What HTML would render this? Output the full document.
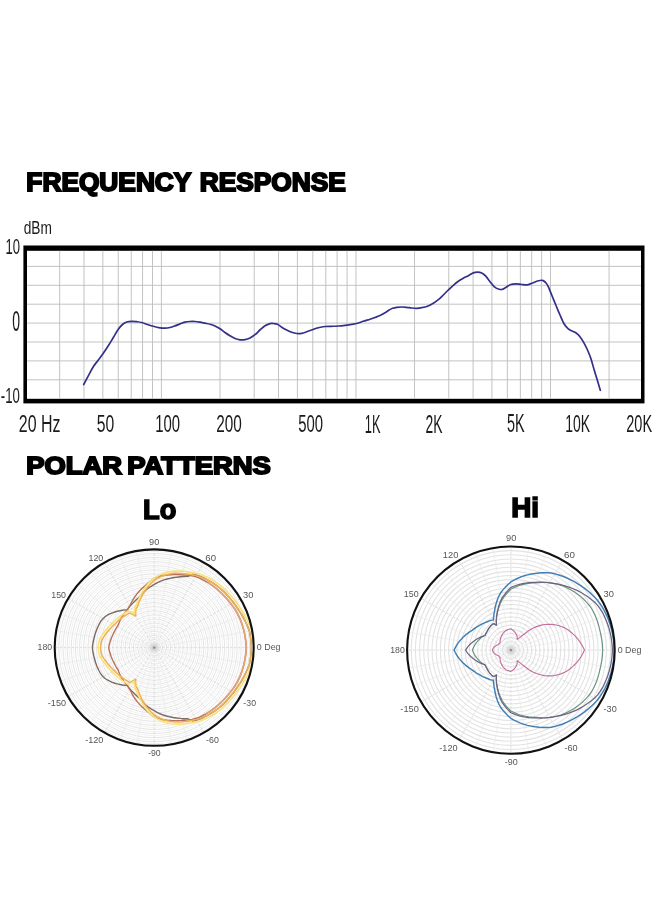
<!DOCTYPE html>
<html lang="en"><head><meta charset="utf-8"><title>Frequency Response and Polar Patterns</title>
<style>
html,body{margin:0;padding:0;background:#fff;}
body{width:660px;height:900px;overflow:hidden;}
svg{display:block;font-family:"Liberation Sans",Arial,sans-serif;}
</style></head><body>
<svg width="660" height="900" viewBox="0 0 660 900">
<rect width="660" height="900" fill="#fff"/>
<rect x="23.4" y="245.5" width="621.1" height="157.89999999999998" fill="#000"/>
<rect x="27.0" y="250.8" width="614.0" height="148.0" fill="#fff"/>
<path d="M27.0 266.40H641.0 M27.0 285.30H641.0 M27.0 304.20H641.0 M27.0 323.10H641.0 M27.0 342.00H641.0 M27.0 360.90H641.0 M27.0 379.80H641.0 M59.67 250.8V398.8 M83.98 250.8V398.8 M102.83 250.8V398.8 M118.24 250.8V398.8 M131.26 250.8V398.8 M142.55 250.8V398.8 M152.50 250.8V398.8 M161.40 250.8V398.8 M219.97 250.8V398.8 M254.22 250.8V398.8 M278.53 250.8V398.8 M297.38 250.8V398.8 M312.79 250.8V398.8 M325.81 250.8V398.8 M337.10 250.8V398.8 M347.05 250.8V398.8 M355.95 250.8V398.8 M414.52 250.8V398.8 M448.77 250.8V398.8 M473.08 250.8V398.8 M491.93 250.8V398.8 M507.34 250.8V398.8 M520.36 250.8V398.8 M531.65 250.8V398.8 M541.60 250.8V398.8 M550.50 250.8V398.8 M609.07 250.8V398.8" stroke="#bcbcbc" stroke-width="0.9" fill="none"/>
<path d="M83.70 384.50C84.47 383.05 86.70 378.77 88.30 375.80C89.90 372.83 91.63 369.33 93.30 366.70C94.97 364.07 96.63 362.23 98.30 360.00C99.97 357.77 101.63 355.67 103.30 353.30C104.97 350.93 106.63 348.43 108.30 345.80C109.97 343.17 111.63 340.27 113.30 337.50C114.97 334.73 116.77 331.37 118.30 329.20C119.83 327.03 121.10 325.70 122.50 324.50C123.90 323.30 125.17 322.53 126.70 322.00C128.23 321.47 130.03 321.35 131.70 321.30C133.37 321.25 135.03 321.50 136.70 321.70C138.37 321.90 140.03 322.08 141.70 322.50C143.37 322.92 144.77 323.57 146.70 324.20C148.63 324.83 151.08 325.70 153.30 326.30C155.52 326.90 158.05 327.48 160.00 327.80C161.95 328.12 163.33 328.25 165.00 328.20C166.67 328.15 168.33 327.88 170.00 327.50C171.67 327.12 173.33 326.50 175.00 325.90C176.67 325.30 178.33 324.52 180.00 323.90C181.67 323.28 183.33 322.60 185.00 322.20C186.67 321.80 188.33 321.62 190.00 321.50C191.67 321.38 193.33 321.38 195.00 321.50C196.67 321.62 198.33 321.92 200.00 322.20C201.67 322.48 203.33 322.87 205.00 323.20C206.67 323.53 208.33 323.73 210.00 324.20C211.67 324.67 213.33 325.23 215.00 326.00C216.67 326.77 218.33 327.72 220.00 328.80C221.67 329.88 223.33 331.33 225.00 332.50C226.67 333.67 228.33 334.80 230.00 335.80C231.67 336.80 233.33 337.83 235.00 338.50C236.67 339.17 238.33 339.60 240.00 339.80C241.67 340.00 243.33 340.00 245.00 339.70C246.67 339.40 248.33 338.83 250.00 338.00C251.67 337.17 253.33 336.03 255.00 334.70C256.67 333.37 258.33 331.48 260.00 330.00C261.67 328.52 263.33 326.87 265.00 325.80C266.67 324.73 268.62 323.98 270.00 323.60C271.38 323.22 272.05 323.38 273.30 323.50C274.55 323.62 276.10 323.68 277.50 324.30C278.90 324.92 280.17 326.25 281.70 327.20C283.23 328.15 285.03 329.15 286.70 330.00C288.37 330.85 290.03 331.72 291.70 332.30C293.37 332.88 295.03 333.33 296.70 333.50C298.37 333.67 300.03 333.58 301.70 333.30C303.37 333.02 305.03 332.35 306.70 331.80C308.37 331.25 309.77 330.68 311.70 330.00C313.63 329.32 316.08 328.28 318.30 327.70C320.52 327.12 322.77 326.73 325.00 326.50C327.23 326.27 329.48 326.38 331.70 326.30C333.92 326.22 336.08 326.17 338.30 326.00C340.52 325.83 342.77 325.58 345.00 325.30C347.23 325.02 349.75 324.60 351.70 324.30C353.65 324.00 354.77 324.00 356.70 323.50C358.63 323.00 361.08 322.02 363.30 321.30C365.52 320.58 368.05 319.83 370.00 319.20C371.95 318.57 373.33 318.12 375.00 317.50C376.67 316.88 378.33 316.28 380.00 315.50C381.67 314.72 383.47 313.72 385.00 312.80C386.53 311.88 387.95 310.75 389.20 310.00C390.45 309.25 391.25 308.75 392.50 308.30C393.75 307.85 395.17 307.52 396.70 307.30C398.23 307.08 400.03 307.00 401.70 307.00C403.37 307.00 405.03 307.13 406.70 307.30C408.37 307.47 410.03 307.83 411.70 308.00C413.37 308.17 415.03 308.35 416.70 308.30C418.37 308.25 419.90 308.05 421.70 307.70C423.50 307.35 425.57 306.93 427.50 306.20C429.43 305.47 431.50 304.38 433.30 303.30C435.10 302.22 436.63 301.08 438.30 299.70C439.97 298.32 441.63 296.62 443.30 295.00C444.97 293.38 446.63 291.62 448.30 290.00C449.97 288.38 451.63 286.75 453.30 285.30C454.97 283.85 456.63 282.47 458.30 281.30C459.97 280.13 461.63 279.23 463.30 278.30C464.97 277.37 466.63 276.60 468.30 275.70C469.97 274.80 471.77 273.48 473.30 272.90C474.83 272.32 476.10 272.18 477.50 272.20C478.90 272.22 480.32 272.33 481.70 273.00C483.08 273.67 484.42 274.75 485.80 276.20C487.18 277.65 488.60 279.95 490.00 281.70C491.40 283.45 492.95 285.52 494.20 286.70C495.45 287.88 496.25 288.33 497.50 288.80C498.75 289.27 500.32 289.72 501.70 289.50C503.08 289.28 504.28 288.33 505.80 287.50C507.32 286.67 509.13 285.12 510.80 284.50C512.47 283.88 513.98 283.80 515.80 283.80C517.62 283.80 519.75 284.33 521.70 284.50C523.65 284.67 525.70 285.05 527.50 284.80C529.30 284.55 530.83 283.63 532.50 283.00C534.17 282.37 535.83 281.45 537.50 281.00C539.17 280.55 541.12 280.02 542.50 280.30C543.88 280.58 544.83 281.63 545.80 282.70C546.77 283.77 547.32 284.65 548.30 286.70C549.28 288.75 550.45 291.95 551.70 295.00C552.95 298.05 554.42 301.67 555.80 305.00C557.18 308.33 558.60 311.83 560.00 315.00C561.40 318.17 562.82 321.70 564.20 324.00C565.58 326.30 566.92 327.60 568.30 328.80C569.68 330.00 571.25 330.53 572.50 331.20C573.75 331.87 574.55 331.88 575.80 332.80C577.05 333.72 578.60 334.95 580.00 336.70C581.40 338.45 582.95 341.08 584.20 343.30C585.45 345.52 586.40 347.50 587.50 350.00C588.60 352.50 589.68 354.97 590.80 358.30C591.92 361.63 593.08 366.25 594.20 370.00C595.32 373.75 596.48 377.42 597.50 380.80C598.52 384.18 599.83 388.72 600.30 390.30" stroke="#33308a" stroke-width="1.7" fill="none" stroke-linecap="round" stroke-linejoin="round"/>
<text transform="translate(26.34 190.75) scale(1.0446 1)" font-size="25.18" font-weight="bold" fill="#000" stroke="#000" stroke-width="1.9" stroke-linejoin="miter" stroke-miterlimit="3" word-spacing="1.40">FREQUENCY RESPONSE</text>
<text transform="translate(26.17 474.35) scale(1.1069 1)" font-size="24.75" font-weight="bold" fill="#000" stroke="#000" stroke-width="1.9" stroke-linejoin="miter" stroke-miterlimit="3" word-spacing="-2.04">POLAR PATTERNS</text>
<text transform="translate(142.98 518.95) scale(1.0039 1)" font-size="27.19" font-weight="bold" fill="#000" stroke="#000" stroke-width="1.5" stroke-linejoin="miter" stroke-miterlimit="3">Lo</text>
<text transform="translate(511.29 516.90) scale(1.0113 1)" font-size="27.48" font-weight="bold" fill="#000" stroke="#000" stroke-width="1.6" stroke-linejoin="miter" stroke-miterlimit="3">Hi</text>
<text transform="translate(23.65 233.72) scale(0.7253 1)" font-size="18.92" fill="#1a1a1a" font-weight="normal" >dBm</text>
<text transform="translate(5.42 254.27) scale(0.5806 1)" font-size="22.54" fill="#1a1a1a" font-weight="normal" >10</text>
<text transform="translate(12.21 331.11) scale(0.4880 1)" font-size="28.73" fill="#1a1a1a" font-weight="normal" >0</text>
<text transform="translate(0.87 403.28) scale(0.5941 1)" font-size="22.25" fill="#1a1a1a" font-weight="normal" >-10</text>
<text transform="translate(18.80 432.25) scale(0.6479 1)" font-size="24.65" fill="#1a1a1a" font-weight="normal" >20 Hz</text>
<text transform="translate(96.87 432.25) scale(0.6382 1)" font-size="24.65" fill="#1a1a1a" font-weight="normal" >50</text>
<text transform="translate(155.18 432.25) scale(0.6044 1)" font-size="24.65" fill="#1a1a1a" font-weight="normal" >100</text>
<text transform="translate(216.23 432.25) scale(0.6231 1)" font-size="24.65" fill="#1a1a1a" font-weight="normal" >200</text>
<text transform="translate(298.20 432.25) scale(0.6039 1)" font-size="24.65" fill="#1a1a1a" font-weight="normal" >500</text>
<text transform="translate(364.83 432.50) scale(0.5079 1)" font-size="25.36" fill="#1a1a1a" font-weight="normal" >1K</text>
<text transform="translate(425.61 432.50) scale(0.5557 1)" font-size="25.00" fill="#1a1a1a" font-weight="normal" >2K</text>
<text transform="translate(506.92 432.25) scale(0.5782 1)" font-size="25.00" fill="#1a1a1a" font-weight="normal" >5K</text>
<text transform="translate(565.25 432.25) scale(0.5665 1)" font-size="24.65" fill="#1a1a1a" font-weight="normal" >10K</text>
<text transform="translate(626.27 432.25) scale(0.5889 1)" font-size="24.65" fill="#1a1a1a" font-weight="normal" >20K</text>
<g fill="none" stroke="#ececec" stroke-width="0.7"><ellipse cx="154.2" cy="647.6" rx="2.07" ry="2.05"/><ellipse cx="154.2" cy="647.6" rx="6.22" ry="6.14"/><ellipse cx="154.2" cy="647.6" rx="10.36" ry="10.23"/><ellipse cx="154.2" cy="647.6" rx="14.51" ry="14.32"/><ellipse cx="154.2" cy="647.6" rx="18.66" ry="18.41"/><ellipse cx="154.2" cy="647.6" rx="22.80" ry="22.50"/><ellipse cx="154.2" cy="647.6" rx="26.95" ry="26.60"/><ellipse cx="154.2" cy="647.6" rx="31.09" ry="30.69"/><ellipse cx="154.2" cy="647.6" rx="35.24" ry="34.78"/><ellipse cx="154.2" cy="647.6" rx="39.39" ry="38.87"/><ellipse cx="154.2" cy="647.6" rx="43.53" ry="42.96"/><ellipse cx="154.2" cy="647.6" rx="47.68" ry="47.05"/><ellipse cx="154.2" cy="647.6" rx="51.82" ry="51.15"/><ellipse cx="154.2" cy="647.6" rx="55.97" ry="55.24"/><ellipse cx="154.2" cy="647.6" rx="60.11" ry="59.33"/><ellipse cx="154.2" cy="647.6" rx="64.26" ry="63.42"/><ellipse cx="154.2" cy="647.6" rx="68.41" ry="67.51"/><ellipse cx="154.2" cy="647.6" rx="72.55" ry="71.60"/><ellipse cx="154.2" cy="647.6" rx="76.70" ry="75.70"/><ellipse cx="154.2" cy="647.6" rx="80.84" ry="79.79"/><ellipse cx="154.2" cy="647.6" rx="84.99" ry="83.88"/><ellipse cx="154.2" cy="647.6" rx="89.14" ry="87.97"/><ellipse cx="154.2" cy="647.6" rx="93.28" ry="92.06"/><ellipse cx="154.2" cy="647.6" rx="97.43" ry="96.15"/></g>
<g fill="none" stroke="#dedede" stroke-width="0.8"><ellipse cx="154.2" cy="647.6" rx="4.15" ry="4.09"/><ellipse cx="154.2" cy="647.6" rx="8.29" ry="8.18"/><ellipse cx="154.2" cy="647.6" rx="12.44" ry="12.28"/><ellipse cx="154.2" cy="647.6" rx="16.58" ry="16.37"/><ellipse cx="154.2" cy="647.6" rx="20.73" ry="20.46"/><ellipse cx="154.2" cy="647.6" rx="24.88" ry="24.55"/><ellipse cx="154.2" cy="647.6" rx="29.02" ry="28.64"/><ellipse cx="154.2" cy="647.6" rx="33.17" ry="32.73"/><ellipse cx="154.2" cy="647.6" rx="37.31" ry="36.83"/><ellipse cx="154.2" cy="647.6" rx="41.46" ry="40.92"/><ellipse cx="154.2" cy="647.6" rx="45.60" ry="45.01"/><ellipse cx="154.2" cy="647.6" rx="49.75" ry="49.10"/><ellipse cx="154.2" cy="647.6" rx="53.90" ry="53.19"/><ellipse cx="154.2" cy="647.6" rx="58.04" ry="57.28"/><ellipse cx="154.2" cy="647.6" rx="62.19" ry="61.38"/><ellipse cx="154.2" cy="647.6" rx="66.33" ry="65.47"/><ellipse cx="154.2" cy="647.6" rx="70.48" ry="69.56"/><ellipse cx="154.2" cy="647.6" rx="74.62" ry="73.65"/><ellipse cx="154.2" cy="647.6" rx="78.77" ry="77.74"/><ellipse cx="154.2" cy="647.6" rx="82.92" ry="81.83"/><ellipse cx="154.2" cy="647.6" rx="87.06" ry="85.93"/><ellipse cx="154.2" cy="647.6" rx="91.21" ry="90.02"/><ellipse cx="154.2" cy="647.6" rx="95.35" ry="94.11"/></g>
<path d="M154.2 647.6L252.19 630.55 M154.2 647.6L247.70 614.01 M154.2 647.6L230.42 584.48 M154.2 647.6L218.16 572.37 M154.2 647.6L188.23 555.32 M154.2 647.6L171.48 550.89 M154.2 647.6L136.92 550.89 M154.2 647.6L120.17 555.32 M154.2 647.6L90.24 572.37 M154.2 647.6L77.98 584.48 M154.2 647.6L60.70 614.01 M154.2 647.6L56.21 630.55 M154.2 647.6L56.21 664.65 M154.2 647.6L60.70 681.19 M154.2 647.6L77.98 710.72 M154.2 647.6L90.24 722.83 M154.2 647.6L120.17 739.88 M154.2 647.6L136.92 744.31 M154.2 647.6L171.48 744.31 M154.2 647.6L188.23 739.88 M154.2 647.6L218.16 722.83 M154.2 647.6L230.42 710.72 M154.2 647.6L247.70 681.19 M154.2 647.6L252.19 664.65" stroke="#e9e9e9" stroke-width="0.7" fill="none"/>
<path d="M154.2 647.6L253.70 647.60 M154.2 647.6L240.37 598.50 M154.2 647.6L203.95 562.56 M154.2 647.6L154.20 549.40 M154.2 647.6L104.45 562.56 M154.2 647.6L68.03 598.50 M154.2 647.6L54.70 647.60 M154.2 647.6L68.03 696.70 M154.2 647.6L104.45 732.64 M154.2 647.6L154.20 745.80 M154.2 647.6L203.95 732.64 M154.2 647.6L240.37 696.70" stroke="#d6d6d6" stroke-width="0.8" stroke-dasharray="2.5 1.5" fill="none"/>
<circle cx="154.2" cy="647.6" r="4" fill="#bbb" opacity="0.35"/><circle cx="154.2" cy="647.6" r="1.2" fill="#888"/>
<path d="M251.40 647.60L251.18 643.42L250.78 639.26L250.20 635.13L249.43 631.03L247.91 627.10L246.22 623.27L244.37 619.54L242.38 615.92L240.27 612.42L238.01 609.03L235.76 605.70L233.37 602.49L230.85 599.41L228.31 596.39L225.64 593.50L222.85 590.75L219.92 588.17L216.90 585.72L213.72 583.49L210.39 581.51L207.00 579.69L203.61 577.96L200.18 576.37L196.59 575.14L192.89 574.26L187.84 576.40L184.04 576.50L180.31 576.79L176.70 577.18L173.18 577.70L169.75 578.39L166.42 579.20L163.19 580.17L160.07 581.43L157.06 582.89L154.20 584.47L151.48 586.06L148.89 587.75L146.46 589.55L144.20 591.66L142.12 593.84L140.22 596.10L138.36 598.02L136.49 599.58L134.72 601.20L133.07 602.88L131.45 604.47L129.94 606.12L128.52 607.82L127.30 609.68L124.89 609.90L122.45 610.25L119.94 610.70L117.39 611.27L114.82 611.98L112.26 612.87L109.80 613.98L107.36 615.23L105.06 616.71L103.16 618.52L101.33 620.44L100.01 622.66L98.78 624.94L97.65 627.29L96.64 629.69L95.75 632.14L94.97 634.64L94.30 637.18L93.69 639.74L93.14 642.33L92.71 644.95L92.40 647.60L92.71 650.25L93.14 652.87L93.69 655.46L94.30 658.02L94.97 660.56L95.75 663.06L96.64 665.51L97.65 667.91L98.78 670.26L100.01 672.54L101.33 674.76L103.16 676.68L105.06 678.49L107.36 679.97L109.80 681.22L112.26 682.33L114.82 683.22L117.39 683.93L119.94 684.50L122.45 684.95L124.89 685.30L127.30 685.52L128.52 687.38L129.94 689.08L131.45 690.73L133.07 692.32L134.72 694.00L136.49 695.62L138.36 697.18L140.22 699.10L142.12 701.36L144.20 703.54L146.46 705.65L148.89 707.45L151.48 709.14L154.20 710.73L157.06 712.31L160.07 713.77L163.19 715.03L166.42 716.00L169.75 716.81L173.18 717.50L176.70 718.02L180.31 718.41L184.04 718.70L187.84 718.80L192.89 720.94L196.59 720.06L200.18 718.83L203.61 717.24L207.00 715.51L210.39 713.69L213.72 711.71L216.90 709.48L219.92 707.03L222.85 704.45L225.64 701.70L228.31 698.81L230.85 695.79L233.37 692.71L235.76 689.50L238.01 686.17L240.27 682.78L242.38 679.28L244.37 675.66L246.22 671.93L247.91 668.10L249.43 664.17L250.20 660.07L250.78 655.94L251.18 651.78Z" stroke="#7d6a62" stroke-width="1.4" fill="none" stroke-linejoin="round"/>
<path d="M246.30 647.60L246.04 643.64L245.60 639.71L244.99 635.80L244.21 631.94L243.21 628.12L242.05 624.37L240.73 620.67L239.14 617.09L237.39 613.59L235.46 610.20L233.29 606.96L231.00 603.84L228.59 600.83L226.08 597.93L223.46 595.15L220.75 592.49L217.94 589.95L215.05 587.55L212.04 585.31L208.94 583.22L205.76 581.28L202.50 579.52L199.19 577.90L195.69 576.68L192.05 575.83L188.36 575.30L184.66 575.02L181.09 574.70L177.54 574.54L174.03 574.55L170.57 574.72L167.16 575.04L163.82 575.47L160.55 576.02L157.34 576.71L154.20 578.34L151.23 580.47L148.45 582.68L145.84 584.92L143.40 587.15L141.11 589.31L138.98 591.54L137.02 593.83L135.24 596.18L133.62 598.57L132.21 601.05L130.97 603.56L129.78 605.85L128.57 607.90L127.34 609.75L125.97 611.29L124.68 612.88L123.49 614.52L122.38 616.20L121.36 617.90L120.44 619.64L119.61 621.41L118.87 623.19L118.22 624.98L117.24 626.54L116.26 628.11L115.36 629.72L114.52 631.38L113.69 633.05L112.83 634.73L112.04 636.45L111.32 638.22L110.68 640.03L110.08 641.87L109.54 643.74L109.08 645.66L108.70 647.60L109.08 649.54L109.54 651.46L110.08 653.33L110.68 655.17L111.32 656.98L112.04 658.75L112.83 660.47L113.69 662.15L114.52 663.82L115.36 665.48L116.26 667.09L117.24 668.66L118.22 670.22L118.87 672.01L119.61 673.79L120.44 675.56L121.36 677.30L122.38 679.00L123.49 680.68L124.68 682.32L125.97 683.91L127.34 685.45L128.57 687.30L129.78 689.35L130.97 691.64L132.21 694.15L133.62 696.63L135.24 699.02L137.02 701.37L138.98 703.66L141.11 705.89L143.40 708.05L145.84 710.28L148.45 712.52L151.23 714.73L154.20 716.86L157.34 718.49L160.55 719.18L163.82 719.73L167.16 720.16L170.57 720.48L174.03 720.65L177.54 720.66L181.09 720.50L184.66 720.18L188.36 719.90L192.05 719.37L195.69 718.52L199.19 717.30L202.50 715.68L205.76 713.92L208.94 711.98L212.04 709.89L215.05 707.65L217.94 705.25L220.75 702.71L223.46 700.05L226.08 697.27L228.59 694.37L231.00 691.36L233.29 688.24L235.46 685.00L237.39 681.61L239.14 678.11L240.73 674.53L242.05 670.83L243.21 667.08L244.21 663.26L244.99 659.40L245.60 655.49L246.04 651.56Z" stroke="#b87058" stroke-width="1.4" fill="none" stroke-linejoin="round"/>
<path d="M206.40 713.54L209.56 711.57L212.65 709.46L215.63 707.18L218.51 704.75L221.29 702.19L223.99 699.50L226.59 696.70L229.08 693.78L231.47 690.74L233.74 687.60L235.88 684.34L237.76 680.92L239.48 677.40L241.01 673.79L242.30 670.09L243.43 666.32L244.38 662.49L245.13 658.62L245.70 654.71L246.10 650.77L246.26 646.81L245.96 642.85L245.49 638.92L244.85 635.03L244.03 631.17L243.00 627.37L241.80 623.62L240.43 619.95L238.81 616.38L237.03 612.90L235.04 609.55L232.84 606.33L230.52 603.23L228.10 600.24L225.57 597.36L222.92 594.61L220.19 591.97L217.37 589.46L214.45 587.09L211.42 584.88L208.31 582.82" stroke="#e2a27c" stroke-width="1.7" fill="none" stroke-linejoin="round" stroke-linecap="round"/>
<path d="M251.40 647.60L251.18 643.42L250.78 639.26L250.20 635.13L249.43 631.03L247.91 627.10L246.22 623.27L244.37 619.54L242.38 615.92L240.27 612.42L238.01 609.03L235.76 605.70L233.37 602.49L230.85 599.41L228.31 596.39L225.64 593.50L222.85 590.75L219.92 588.17L216.90 585.72L213.72 583.49L210.39 581.51L207.00 579.69L203.50 578.11L199.95 576.72L196.32 575.60L192.57 574.86L188.83 574.30L185.19 573.75L181.57 573.38L177.94 573.29L174.35 573.37L170.80 573.69L167.26 574.48L163.83 575.42L160.48 576.77L157.26 578.54L154.20 580.45L151.34 582.98L148.71 585.70L146.33 588.59L144.23 591.80L142.40 595.08L140.80 598.25L139.40 601.28L138.24 604.34L137.23 607.18L135.90 608.87L135.66 612.45L135.70 615.98L132.71 614.31L129.54 612.84L128.02 613.93L126.38 614.88L124.75 615.88L123.16 616.96L121.59 618.11L120.03 619.30L118.51 620.57L117.04 621.92L115.63 623.35L114.13 624.77L112.57 626.21L111.07 627.75L109.62 629.38L108.24 631.09L106.76 632.84L105.30 634.67L103.91 636.60L102.59 638.62L101.65 640.77L101.17 643.02L100.78 645.30L100.50 647.60L100.78 649.90L101.17 652.18L101.65 654.43L102.59 656.58L103.91 658.60L105.30 660.53L106.76 662.36L108.24 664.11L109.62 665.82L111.07 667.45L112.57 668.99L114.13 670.43L115.63 671.85L117.04 673.28L118.51 674.63L120.03 675.90L121.59 677.09L123.16 678.24L124.75 679.32L126.38 680.32L128.02 681.27L129.54 682.36L132.71 680.89L135.70 679.22L135.66 682.75L135.90 686.33L137.23 688.02L138.24 690.86L139.40 693.92L140.80 696.95L142.40 700.12L144.23 703.40L146.33 706.61L148.71 709.50L151.34 712.22L154.20 714.75L157.26 716.66L160.48 718.43L163.83 719.78L167.26 720.72L170.80 721.51L174.35 721.83L177.94 721.91L181.57 721.82L185.19 721.45L188.83 720.90L192.57 720.34L196.32 719.60L199.95 718.48L203.50 717.09L207.00 715.51L210.39 713.69L213.72 711.71L216.90 709.48L219.92 707.03L222.85 704.45L225.64 701.70L228.31 698.81L230.85 695.79L233.37 692.71L235.76 689.50L238.01 686.17L240.27 682.78L242.38 679.28L244.37 675.66L246.22 671.93L247.91 668.10L249.43 664.17L250.20 660.07L250.78 655.94L251.18 651.78Z" stroke="#f0b050" stroke-width="1.5" fill="none" stroke-linejoin="round"/>
<path d="M253.80 647.60L253.58 643.32L253.17 639.05L252.58 634.82L251.79 630.62L250.25 626.58L248.54 622.65L246.66 618.83L244.64 615.11L242.48 611.51L240.19 608.03L237.89 604.61L235.44 601.31L232.87 598.13L230.27 595.03L227.55 592.06L224.68 589.23L221.69 586.57L218.59 584.05L215.34 581.75L211.93 579.69L208.46 577.81L204.88 576.17L201.24 574.73L197.52 573.55L193.67 572.76L189.85 572.16L186.11 571.56L182.39 571.16L178.66 571.03L174.97 571.08L171.32 571.38L167.68 572.14L164.14 573.07L160.69 574.41L157.36 576.17L154.20 578.08L151.24 580.62L148.50 583.34L146.02 586.24L143.81 589.47L141.88 592.77L140.18 595.96L138.68 599.02L137.42 602.11L136.32 604.99L134.89 606.72L134.55 610.35L134.50 613.92L131.42 612.31L128.16 610.90L126.56 612.05L124.83 613.06L123.13 614.13L121.46 615.29L119.82 616.51L118.19 617.78L116.61 619.13L115.08 620.56L113.60 622.07L112.05 623.58L110.44 625.12L108.89 626.75L107.40 628.47L105.98 630.28L104.47 632.13L102.98 634.05L101.56 636.08L100.23 638.21L99.27 640.46L98.78 642.81L98.39 645.19L98.10 647.60L98.39 650.01L98.78 652.39L99.27 654.74L100.23 656.99L101.56 659.12L102.98 661.15L104.47 663.07L105.98 664.92L107.40 666.73L108.89 668.45L110.44 670.08L112.05 671.62L113.60 673.13L115.08 674.64L116.61 676.07L118.19 677.42L119.82 678.69L121.46 679.91L123.13 681.07L124.83 682.14L126.56 683.15L128.16 684.30L131.42 682.89L134.50 681.28L134.55 684.85L134.89 688.48L136.32 690.21L137.42 693.09L138.68 696.18L140.18 699.24L141.88 702.43L143.81 705.73L146.02 708.96L148.50 711.86L151.24 714.58L154.20 717.12L157.36 719.03L160.69 720.79L164.14 722.13L167.68 723.06L171.32 723.82L174.97 724.12L178.66 724.17L182.39 724.04L186.11 723.64L189.85 723.04L193.67 722.44L197.52 721.65L201.24 720.47L204.88 719.03L208.46 717.39L211.93 715.51L215.34 713.45L218.59 711.15L221.69 708.63L224.68 705.97L227.55 703.14L230.27 700.17L232.87 697.07L235.44 693.89L237.89 690.59L240.19 687.17L242.48 683.69L244.64 680.09L246.66 676.37L248.54 672.55L250.25 668.62L251.79 664.58L252.58 660.38L253.17 656.15L253.58 651.88Z" stroke="#f7e27c" stroke-width="1.6" fill="none" stroke-linejoin="round"/>
<ellipse cx="154.2" cy="647.6" rx="99.5" ry="98.2" fill="none" stroke="#111" stroke-width="2.1"/>
<g fill="none" stroke="#e3e3e3" stroke-width="1.1"><ellipse cx="510.9" cy="650.1" rx="4.15" ry="4.14"/><ellipse cx="510.9" cy="650.1" rx="12.46" ry="12.43"/><ellipse cx="510.9" cy="650.1" rx="20.76" ry="20.72"/><ellipse cx="510.9" cy="650.1" rx="29.06" ry="29.01"/><ellipse cx="510.9" cy="650.1" rx="37.37" ry="37.30"/><ellipse cx="510.9" cy="650.1" rx="45.67" ry="45.58"/><ellipse cx="510.9" cy="650.1" rx="53.98" ry="53.87"/><ellipse cx="510.9" cy="650.1" rx="62.28" ry="62.16"/><ellipse cx="510.9" cy="650.1" rx="70.58" ry="70.45"/><ellipse cx="510.9" cy="650.1" rx="78.89" ry="78.74"/><ellipse cx="510.9" cy="650.1" rx="87.19" ry="87.02"/><ellipse cx="510.9" cy="650.1" rx="95.50" ry="95.31"/><ellipse cx="510.9" cy="650.1" rx="8.30" ry="8.29"/><ellipse cx="510.9" cy="650.1" rx="16.61" ry="16.58"/><ellipse cx="510.9" cy="650.1" rx="24.91" ry="24.86"/><ellipse cx="510.9" cy="650.1" rx="33.22" ry="33.15"/><ellipse cx="510.9" cy="650.1" rx="41.52" ry="41.44"/><ellipse cx="510.9" cy="650.1" rx="49.82" ry="49.73"/><ellipse cx="510.9" cy="650.1" rx="58.13" ry="58.02"/><ellipse cx="510.9" cy="650.1" rx="66.43" ry="66.30"/><ellipse cx="510.9" cy="650.1" rx="74.74" ry="74.59"/><ellipse cx="510.9" cy="650.1" rx="83.04" ry="82.88"/><ellipse cx="510.9" cy="650.1" rx="91.34" ry="91.17"/><ellipse cx="510.9" cy="650.1" rx="99.65" ry="99.46"/></g>
<path d="M510.9 650.1L613.12 632.11 M510.9 650.1L608.44 614.67 M510.9 650.1L590.42 583.51 M510.9 650.1L577.62 570.74 M510.9 650.1L546.40 552.75 M510.9 650.1L528.92 548.07 M510.9 650.1L492.88 548.07 M510.9 650.1L475.40 552.75 M510.9 650.1L444.18 570.74 M510.9 650.1L431.38 583.51 M510.9 650.1L413.36 614.67 M510.9 650.1L408.68 632.11 M510.9 650.1L408.68 668.09 M510.9 650.1L413.36 685.53 M510.9 650.1L431.38 716.69 M510.9 650.1L444.18 729.46 M510.9 650.1L475.40 747.45 M510.9 650.1L492.88 752.13 M510.9 650.1L528.92 752.13 M510.9 650.1L546.40 747.45 M510.9 650.1L577.62 729.46 M510.9 650.1L590.42 716.69 M510.9 650.1L608.44 685.53 M510.9 650.1L613.12 668.09" stroke="#e9e9e9" stroke-width="0.7" fill="none"/>
<path d="M510.9 650.1L614.70 650.10 M510.9 650.1L600.79 598.30 M510.9 650.1L562.80 560.38 M510.9 650.1L510.90 546.50 M510.9 650.1L459.00 560.38 M510.9 650.1L421.01 598.30 M510.9 650.1L407.10 650.10 M510.9 650.1L421.01 701.90 M510.9 650.1L459.00 739.82 M510.9 650.1L510.90 753.70 M510.9 650.1L562.80 739.82 M510.9 650.1L600.79 701.90" stroke="#d6d6d6" stroke-width="0.8" stroke-dasharray="2.5 1.5" fill="none"/>
<circle cx="510.9" cy="650.1" r="4" fill="#bbb" opacity="0.35"/><circle cx="510.9" cy="650.1" r="1.2" fill="#888"/>
<path d="M584.50 650.10L582.96 646.96L581.29 643.95L579.42 641.10L577.26 638.42L575.00 635.92L572.65 633.59L570.10 631.47L567.48 629.55L564.68 627.87L561.45 626.57L558.21 625.52L554.97 624.70L551.38 624.36L547.80 624.31L544.29 624.53L540.40 625.39L536.54 626.65L532.86 628.19L528.65 630.77L524.69 633.70L521.91 635.78L519.66 637.61L518.04 638.92L517.15 639.30L517.20 638.02L517.15 636.71L516.84 635.78L516.46 634.84L516.01 633.92L515.49 633.00L514.90 632.11L514.21 631.35L513.46 630.67L512.66 630.03L511.80 629.42L510.90 628.84L509.98 629.03L509.07 629.27L508.19 629.54L507.32 629.85L506.49 630.26L505.72 630.81L504.99 631.39L504.30 631.99L503.65 632.62L503.05 633.30L502.53 634.06L502.07 634.83L501.65 635.61L501.29 636.40L500.98 637.19L500.71 637.98L500.49 638.76L500.32 639.54L500.19 640.31L500.11 641.07L500.08 641.81L500.09 642.54L499.67 642.96L499.28 643.40L498.89 643.86L498.53 644.34L497.94 644.74L497.11 645.09L496.30 645.50L495.49 645.98L494.70 646.52L493.99 647.12L493.52 647.82L493.08 648.54L492.67 649.31L492.30 650.10L492.67 650.89L493.08 651.66L493.52 652.38L493.99 653.08L494.70 653.68L495.49 654.22L496.30 654.70L497.11 655.11L497.94 655.46L498.53 655.86L498.89 656.34L499.28 656.80L499.67 657.24L500.09 657.66L500.08 658.39L500.11 659.13L500.19 659.89L500.32 660.66L500.49 661.44L500.71 662.22L500.98 663.01L501.29 663.80L501.65 664.59L502.07 665.37L502.53 666.14L503.05 666.90L503.65 667.58L504.30 668.21L504.99 668.81L505.72 669.39L506.49 669.94L507.32 670.35L508.19 670.66L509.07 670.93L509.98 671.17L510.90 671.36L511.80 670.78L512.66 670.17L513.46 669.53L514.21 668.85L514.90 668.09L515.49 667.20L516.01 666.28L516.46 665.36L516.84 664.42L517.15 663.49L517.20 662.18L517.15 660.90L518.04 661.28L519.66 662.59L521.91 664.42L524.69 666.50L528.65 669.43L532.86 672.01L536.54 673.55L540.40 674.81L544.29 675.67L547.80 675.89L551.38 675.84L554.97 675.50L558.21 674.68L561.45 673.63L564.68 672.33L567.48 670.65L570.10 668.73L572.65 666.61L575.00 664.28L577.26 661.78L579.42 659.10L581.29 656.25L582.96 653.24Z" stroke="#c46f9c" stroke-width="1.15" fill="none" stroke-linejoin="round"/>
<path d="M602.70 650.10L602.52 646.11L602.16 642.13L601.55 638.19L600.77 634.28L599.84 630.42L598.93 626.56L597.84 622.74L596.59 618.97L595.04 615.32L593.29 611.75L591.39 608.28L589.03 605.08L586.41 602.08L583.69 599.23L580.78 596.58L577.62 594.22L574.39 592.04L571.09 590.03L567.73 588.20L564.33 586.55L560.76 585.25L557.12 584.22L553.48 583.39L549.83 582.79L546.14 582.53L542.50 582.46L538.93 582.57L535.44 582.81L532.09 583.02L528.81 583.39L525.60 583.91L522.47 584.58L519.42 585.51L516.46 586.62L513.62 587.85L510.90 589.22L508.35 591.77L506.02 594.42L503.92 597.16L502.04 599.97L500.46 603.10L499.18 606.45L498.17 609.81L497.34 612.93L496.72 615.94L496.38 619.02L496.32 622.14L496.50 625.21L494.04 623.68L492.68 624.12L491.66 625.07L490.69 626.06L489.77 627.08L488.97 628.21L488.22 629.36L487.54 630.54L486.92 631.73L486.26 632.88L485.64 634.04L485.07 635.22L483.82 636.03L482.42 636.85L481.15 637.80L479.91 638.84L478.71 639.97L477.60 641.19L476.55 642.50L475.56 643.88L474.63 645.33L473.79 646.86L473.01 648.45L472.30 650.10L473.01 651.75L473.79 653.34L474.63 654.87L475.56 656.32L476.55 657.70L477.60 659.01L478.71 660.23L479.91 661.36L481.15 662.40L482.42 663.35L483.82 664.17L485.07 664.98L485.64 666.16L486.26 667.32L486.92 668.47L487.54 669.66L488.22 670.84L488.97 671.99L489.77 673.12L490.69 674.14L491.66 675.13L492.68 676.08L494.04 676.52L496.50 674.99L496.32 678.06L496.38 681.18L496.72 684.26L497.34 687.27L498.17 690.39L499.18 693.75L500.46 697.10L502.04 700.23L503.92 703.04L506.02 705.78L508.35 708.43L510.90 710.98L513.62 712.35L516.46 713.58L519.42 714.69L522.47 715.62L525.60 716.29L528.81 716.81L532.09 717.18L535.44 717.39L538.93 717.63L542.50 717.74L546.14 717.67L549.83 717.41L553.48 716.81L557.12 715.98L560.76 714.95L564.33 713.65L567.73 712.00L571.09 710.17L574.39 708.16L577.62 705.98L580.78 703.62L583.69 700.97L586.41 698.12L589.03 695.12L591.39 691.92L593.29 688.45L595.04 684.88L596.59 681.23L597.84 677.46L598.93 673.64L599.84 669.78L600.77 665.92L601.55 662.01L602.16 658.07L602.52 654.09Z" stroke="#6a9580" stroke-width="1.15" fill="none" stroke-linejoin="round"/>
<path d="M612.40 650.10L612.16 645.69L611.72 641.30L611.06 636.94L610.12 632.64L609.00 628.39L607.66 624.22L606.08 620.15L604.32 616.16L602.35 612.29L599.98 608.64L597.46 605.13L594.40 601.99L590.97 599.19L587.46 596.60L583.86 594.23L580.20 592.07L576.49 590.12L572.62 588.50L568.74 587.10L564.85 585.92L561.05 584.87L557.29 583.97L553.55 583.28L549.85 582.76L546.21 582.39L542.62 582.20L539.08 582.20L535.62 582.32L532.28 582.41L529.00 582.67L525.79 583.07L522.64 583.63L519.57 584.37L516.58 585.25L513.69 586.27L510.90 587.42L508.27 590.04L505.87 592.77L503.71 595.58L501.78 598.47L500.17 601.81L498.91 605.43L497.94 609.07L497.18 612.49L496.67 615.80L496.38 619.02L496.32 622.14L496.50 625.21L494.04 623.68L492.68 624.12L491.66 625.07L490.69 626.06L489.77 627.08L488.97 628.21L488.22 629.36L487.54 630.54L486.92 631.73L486.26 632.88L485.64 634.04L485.07 635.22L483.57 635.90L481.82 636.57L480.09 637.36L478.30 638.26L476.54 639.29L474.81 640.45L473.06 641.73L471.33 643.14L469.65 644.68L468.19 646.37L466.86 648.18L465.60 650.10L466.86 652.02L468.19 653.83L469.65 655.52L471.33 657.06L473.06 658.47L474.81 659.75L476.54 660.91L478.30 661.94L480.09 662.84L481.82 663.63L483.57 664.30L485.07 664.98L485.64 666.16L486.26 667.32L486.92 668.47L487.54 669.66L488.22 670.84L488.97 671.99L489.77 673.12L490.69 674.14L491.66 675.13L492.68 676.08L494.04 676.52L496.50 674.99L496.32 678.06L496.38 681.18L496.67 684.40L497.18 687.71L497.94 691.13L498.91 694.77L500.17 698.39L501.78 701.73L503.71 704.62L505.87 707.43L508.27 710.16L510.90 712.78L513.69 713.93L516.58 714.95L519.57 715.83L522.64 716.57L525.79 717.13L529.00 717.53L532.28 717.79L535.62 717.88L539.08 718.00L542.62 718.00L546.21 717.81L549.85 717.44L553.55 716.92L557.29 716.23L561.05 715.33L564.85 714.28L568.74 713.10L572.62 711.70L576.49 710.08L580.20 708.13L583.86 705.97L587.46 703.60L590.97 701.01L594.40 698.21L597.46 695.07L599.98 691.56L602.35 687.91L604.32 684.04L606.08 680.05L607.66 675.98L609.00 671.81L610.12 667.56L611.06 663.26L611.72 658.90L612.16 654.51Z" stroke="#6a6480" stroke-width="1.25" fill="none" stroke-linejoin="round"/>
<path d="M614.20 650.10L614.06 645.60L613.72 641.12L613.06 636.68L612.18 632.28L611.10 627.93L609.79 623.65L608.30 619.45L606.62 615.33L604.70 611.32L602.48 607.48L600.10 603.75L597.48 600.21L594.44 596.98L591.28 593.92L588.00 591.05L584.59 588.39L581.09 585.90L577.52 583.61L573.90 581.48L570.22 579.54L566.50 577.78L562.72 576.23L558.88 574.94L555.02 573.83L551.16 572.92L547.06 572.70L543.01 572.74L539.03 572.97L535.13 573.41L531.32 574.04L527.62 574.84L524.02 575.82L520.54 577.04L517.17 578.52L513.96 580.16L510.90 581.93L508.03 584.47L505.38 587.12L502.96 589.87L500.76 592.71L498.90 596.08L497.38 599.76L496.17 603.46L495.24 607.17L494.57 610.76L494.00 613.92L493.63 616.99L493.50 620.02L491.78 620.14L490.21 620.61L488.65 621.16L487.10 621.79L485.51 622.44L483.87 623.12L482.25 623.89L480.64 624.75L479.05 625.71L477.35 626.65L475.66 627.69L474.00 628.84L472.37 630.08L470.57 631.33L468.63 632.63L466.73 634.06L464.88 635.62L463.07 637.31L461.31 639.13L459.61 641.07L458.03 643.15L456.62 645.36L455.31 647.68L454.10 650.10L455.31 652.52L456.62 654.84L458.03 657.05L459.61 659.13L461.31 661.07L463.07 662.89L464.88 664.58L466.73 666.14L468.63 667.57L470.57 668.87L472.37 670.12L474.00 671.36L475.66 672.51L477.35 673.55L479.05 674.49L480.64 675.45L482.25 676.31L483.87 677.08L485.51 677.76L487.10 678.41L488.65 679.04L490.21 679.59L491.78 680.06L493.50 680.18L493.63 683.21L494.00 686.28L494.57 689.44L495.24 693.03L496.17 696.74L497.38 700.44L498.90 704.12L500.76 707.49L502.96 710.33L505.38 713.08L508.03 715.73L510.90 718.27L513.96 720.04L517.17 721.68L520.54 723.16L524.02 724.38L527.62 725.36L531.32 726.16L535.13 726.79L539.03 727.23L543.01 727.46L547.06 727.50L551.16 727.28L555.02 726.37L558.88 725.26L562.72 723.97L566.50 722.42L570.22 720.66L573.90 718.72L577.52 716.59L581.09 714.30L584.59 711.81L588.00 709.15L591.28 706.28L594.44 703.22L597.48 699.99L600.10 696.45L602.48 692.72L604.70 688.88L606.62 684.87L608.30 680.75L609.79 676.55L611.10 672.27L612.18 667.92L613.06 663.52L613.72 659.08L614.06 654.60Z" stroke="#3f7fb5" stroke-width="1.45" fill="none" stroke-linejoin="round"/>
<ellipse cx="510.9" cy="650.1" rx="103.8" ry="103.6" fill="none" stroke="#111" stroke-width="2.1"/>
<text transform="translate(149.09 544.61) scale(1.0383 1)" font-size="8.87" fill="#555" font-weight="normal" >90</text>
<text transform="translate(205.32 560.71) scale(1.1229 1)" font-size="8.59" fill="#555" font-weight="normal" >60</text>
<text transform="translate(242.97 597.62) scale(1.1025 1)" font-size="8.45" fill="#555" font-weight="normal" >30</text>
<text transform="translate(256.79 650.38) scale(1.0255 1)" font-size="8.68" fill="#555" font-weight="normal" >0 Deg</text>
<text transform="translate(243.35 705.72) scale(1.0371 1)" font-size="8.45" fill="#555" font-weight="normal" >-30</text>
<text transform="translate(206.05 742.82) scale(1.0458 1)" font-size="8.45" fill="#555" font-weight="normal" >-60</text>
<text transform="translate(148.15 756.32) scale(1.0285 1)" font-size="8.45" fill="#555" font-weight="normal" >-90</text>
<text transform="translate(85.14 742.81) scale(1.0409 1)" font-size="8.73" fill="#555" font-weight="normal" >-120</text>
<text transform="translate(47.84 705.72) scale(1.0756 1)" font-size="8.45" fill="#555" font-weight="normal" >-150</text>
<text transform="translate(37.55 649.71) scale(1.0236 1)" font-size="8.53" fill="#555" font-weight="normal" >180</text>
<text transform="translate(51.24 597.62) scale(1.0486 1)" font-size="8.45" fill="#555" font-weight="normal" >150</text>
<text transform="translate(88.43 560.71) scale(1.0389 1)" font-size="8.59" fill="#555" font-weight="normal" >120</text>
<text transform="translate(506.09 541.11) scale(1.0383 1)" font-size="8.87" fill="#555" font-weight="normal" >90</text>
<text transform="translate(564.01 557.81) scale(1.0919 1)" font-size="9.01" fill="#555" font-weight="normal" >60</text>
<text transform="translate(603.57 596.91) scale(1.0500 1)" font-size="8.87" fill="#555" font-weight="normal" >30</text>
<text transform="translate(617.69 652.71) scale(0.9880 1)" font-size="9.01" fill="#555" font-weight="normal" >0 Deg</text>
<text transform="translate(603.53 711.51) scale(1.0128 1)" font-size="9.01" fill="#555" font-weight="normal" >-30</text>
<text transform="translate(564.43 750.51) scale(1.0289 1)" font-size="8.87" fill="#555" font-weight="normal" >-60</text>
<text transform="translate(504.74 765.11) scale(1.0124 1)" font-size="8.87" fill="#555" font-weight="normal" >-90</text>
<text transform="translate(439.33 750.51) scale(1.0141 1)" font-size="9.01" fill="#555" font-weight="normal" >-120</text>
<text transform="translate(400.33 711.71) scale(1.0256 1)" font-size="9.01" fill="#555" font-weight="normal" >-150</text>
<text transform="translate(390.25 652.61) scale(0.9911 1)" font-size="8.81" fill="#555" font-weight="normal" >180</text>
<text transform="translate(403.84 596.91) scale(0.9987 1)" font-size="8.87" fill="#555" font-weight="normal" >150</text>
<text transform="translate(442.80 557.81) scale(1.0329 1)" font-size="9.01" fill="#555" font-weight="normal" >120</text>
</svg>
</body></html>
